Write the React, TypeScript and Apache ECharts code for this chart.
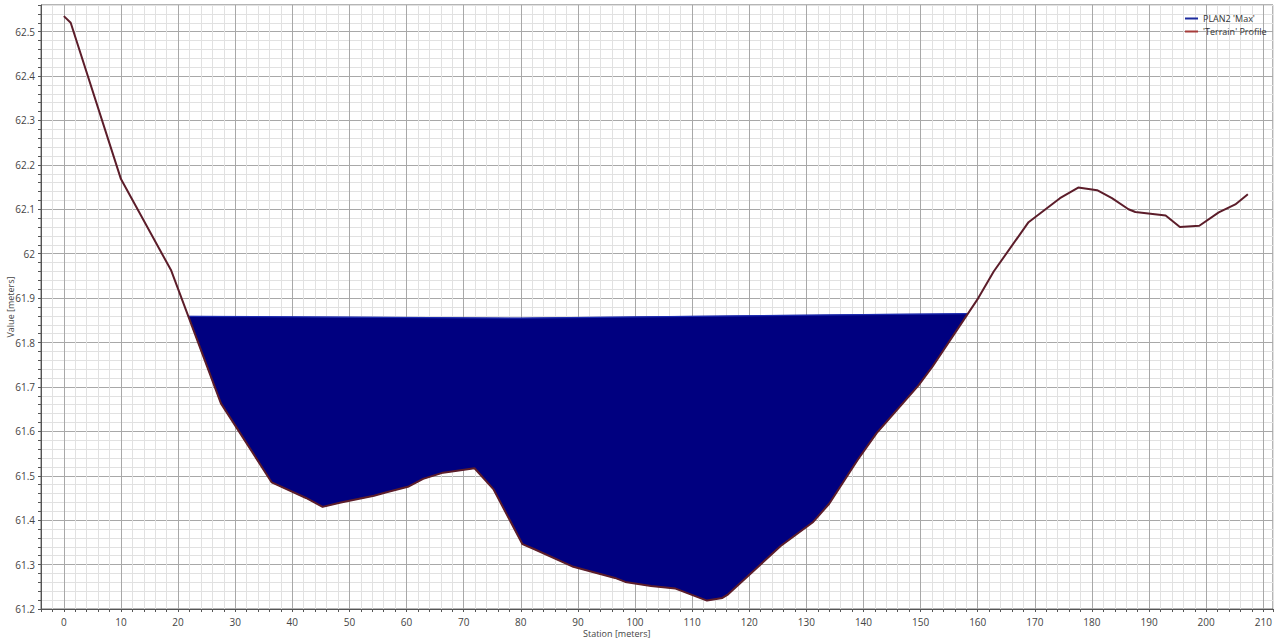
import { useEffect, useRef } from "react";
import * as echarts from "echarts";

// Ground profile along the cross-section (station in m, elevation in m)
const terrainStation = [
  0, 1.2, 10, 18.8, 27.5, 36.4, 42.4, 45.3, 48.5, 54.3, 56.5, 60.4, 62.9, 66.4,
  71.9, 75.2, 80.3, 82.5, 89.2, 96.5, 98.3, 102.8, 107.1, 112.6, 115.3, 116.3,
  125.5, 131.2, 134, 139, 142.3, 149.6, 152.1, 160.1, 162.8, 168.9, 174.4,
  177.6, 180.9, 183.5, 186.4, 187.6, 192.9, 195.4, 198.8, 202.2, 205.1, 207.3,
];
const terrainElevation = [
  62.535, 62.52, 62.168, 61.962, 61.663, 61.485, 61.45, 61.43, 61.44, 61.455,
  61.463, 61.476, 61.493, 61.507, 61.517, 61.47, 61.346, 61.334, 61.295, 61.27,
  61.261, 61.252, 61.246, 61.219, 61.225, 61.233, 61.342, 61.396, 61.437,
  61.536, 61.596, 61.703, 61.746, 61.9, 61.96, 62.071, 62.125, 62.149, 62.143,
  62.125, 62.1, 62.094, 62.086, 62.06, 62.063, 62.093, 62.111, 62.134,
];

// Maximum water surface, bank to bank
const waterStation = [21.8, 50, 80, 110, 140, 158.2];
const waterElevation = [61.859, 61.857, 61.855, 61.859, 61.863, 61.865];

const xTickLabels = [0, 10, 20, 30, 40, 50, 60, 70, 80, 90, 100, 110, 120, 130, 140, 150, 160, 170, 180, 190, 200, 210];
const yTickLabels = [61.2, 61.3, 61.4, 61.5, 61.6, 61.7, 61.8, 61.9, 62, 62.1, 62.2, 62.3, 62.4, 62.5];

const FONT = "'Open Sans', 'Noto Sans', sans-serif";
const MAJOR = "#a8a8a8";
const MINOR = "#e1e1e1";

const near = (list: number[], v: number) => list.some((t) => Math.abs(t - v) < 1e-6);

export default function App() {
  const ref = useRef<HTMLDivElement>(null);

  useEffect(() => {
    if (!ref.current) return;
    const chart = echarts.init(ref.current, null, { renderer: "svg" });

    const terrain = terrainStation.map((s, i) => [s, terrainElevation[i]]);
    const water = waterStation.map((s, i) => [s, waterElevation[i]]);
    const wetStart = waterStation[0];
    const wetEnd = waterStation[waterStation.length - 1];

    chart.setOption({
      animation: false,
      grid: {
        left: 41,
        right: 4,
        top: 5,
        bottom: 34,
        outerBoundsMode: "none",
        show: true,
        borderColor: "#6a6a6a",
        borderWidth: 1,
        backgroundColor: "#ffffff",
      },
      legend: {
        orient: "vertical",
        left: 1185,
        top: 14,
        padding: 0,
        itemWidth: 13,
        itemHeight: 2,
        itemGap: 4,
        icon: "rect",
        selectedMode: false,
        textStyle: { fontSize: 9, color: "#333", fontFamily: FONT },
        data: [
          { name: "PLAN2 'Max'", itemStyle: { color: "#1c2b9e" } },
          { name: "'Terrain' Profile", itemStyle: { color: "#a63c3a" } },
        ],
      },
      xAxis: {
        type: "value",
        min: -4,
        max: 211.7,
        interval: 2,
        axisLine: { show: true, onZero: false, lineStyle: { color: "#555", width: 1 } },
        axisTick: { show: true, length: 3, lineStyle: { color: "#555" } },
        axisLabel: {
          fontSize: 10,
          color: "#444",
          fontFamily: FONT,
          margin: 8,
          formatter: (v: number) => (near(xTickLabels, v) ? String(Math.round(v)) : ""),
        },
        splitLine: {
          show: true,
          lineStyle: { color: [MINOR, MINOR, MAJOR, MINOR, MINOR], width: 1 },
        },
      },
      yAxis: {
        type: "value",
        min: 61.2,
        max: 62.56,
        interval: 0.02,
        axisLine: { show: true, onZero: false, lineStyle: { color: "#555", width: 1 } },
        axisTick: { show: true, length: 3, lineStyle: { color: "#555" } },
        axisLabel: {
          fontSize: 10,
          color: "#444",
          fontFamily: FONT,
          margin: 6,
          formatter: (v: number) =>
            near(yTickLabels, v) ? String(Math.round(v * 10) / 10) : "",
        },
        splitLine: {
          show: true,
          lineStyle: { color: [MAJOR, MINOR, MINOR, MINOR, MINOR], width: 1 },
        },
      },
      graphic: [
        {
          type: "text",
          left: 583,
          top: 629,
          style: {
            text: "Station [meters]",
            fontSize: 9,
            fill: "#444",
            fontFamily: FONT,
          },
        },
        {
          type: "text",
          x: 10,
          y: 307,
          rotation: Math.PI / 2,
          style: {
            text: "Value [meters]",
            fontSize: 9,
            fill: "#444",
            fontFamily: FONT,
            align: "center",
            verticalAlign: "middle",
          },
        },
      ],
      series: [
        {
          // wetted area between the water surface and the ground
          type: "custom",
          name: "wetted",
          silent: true,
          data: [[0, 62]],
          renderItem: (_params: any, api: any) => {
            const pts: number[][] = [];
            water.forEach((p) => pts.push(api.coord(p)));
            for (let i = terrain.length - 1; i >= 0; i--) {
              const s = terrain[i][0];
              if (s > wetStart && s < wetEnd) pts.push(api.coord(terrain[i]));
            }
            return {
              type: "polygon",
              shape: { points: pts },
              style: { fill: "#000080", stroke: "#000080", lineWidth: 0.5 },
            };
          },
        },
        {
          type: "line",
          name: "PLAN2 'Max'",
          data: water,
          symbol: "none",
          lineStyle: { color: "#1c2bb0", width: 1.2 },
          itemStyle: { color: "#1c2b9e" },
        },
        {
          type: "line",
          name: "'Terrain' Profile",
          data: terrain,
          symbol: "none",
          lineStyle: { color: "#5c1d2a", width: 2 },
          itemStyle: { color: "#a63c3a" },
        },
      ],
    });

    return () => chart.dispose();
  }, []);

  return (
    <div
      ref={ref}
      style={{ position: "absolute", left: 0, top: 0, width: 1277, height: 643, background: "#fff" }}
    />
  );
}
